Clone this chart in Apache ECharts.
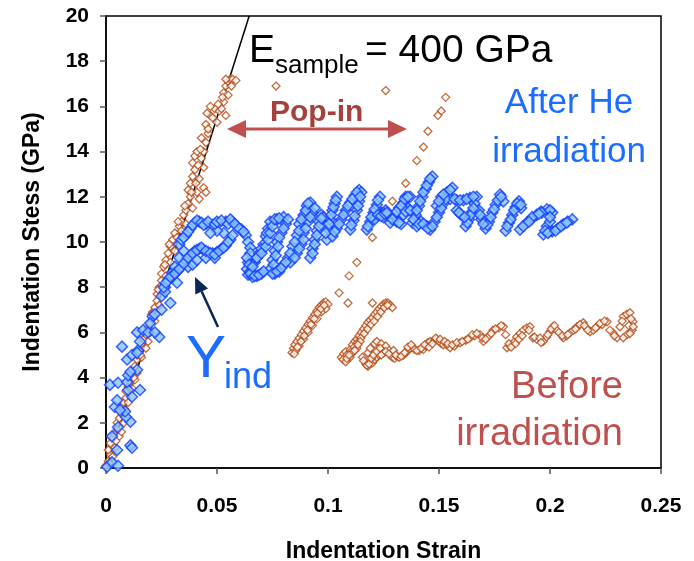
<!DOCTYPE html>
<html>
<head>
<meta charset="utf-8">
<script src="https://cdn.jsdelivr.net/npm/echarts@6/dist/echarts.min.js"></script>
<style>
  html, body { margin: 0; padding: 0; background: #fff; }
  #chart { width: 694px; height: 561px; }
</style>
</head>
<body>
<div id="chart"></div>
<script>
// Indentation stress-strain curves, [strain, stress (GPa)]

// Before irradiation: elastic loading up to the pop-in
const beforeLoading = [
  [0.000,0.1],[0.001,0.3],[0.002,0.6],[0.001,0.8],[0.003,1.0],[0.003,1.3],[0.004,1.5],[0.005,1.7],
  [0.005,2.0],[0.006,2.2],[0.007,2.4],[0.007,2.7],[0.008,2.9],[0.009,3.1],[0.009,3.4],[0.010,3.6],
  [0.011,3.8],[0.011,4.1],[0.012,4.3],[0.013,4.5],[0.014,4.8],[0.014,5.0],[0.015,5.2],[0.016,5.5],
  [0.017,5.7],[0.018,5.9],[0.019,6.2],[0.020,6.4],[0.021,6.6],[0.021,6.9],[0.022,7.1],[0.023,7.4],
  [0.023,7.7],[0.024,8.0],[0.025,8.3],[0.025,8.6],[0.026,8.9],[0.027,9.2],[0.028,9.5],[0.029,9.8],
  [0.030,10.1],[0.031,10.4],[0.033,10.7],[0.034,10.9],[0.035,11.2],[0.036,11.4],[0.037,11.7],[0.038,12.0],
  [0.004,0.9],[0.006,1.4],[0.008,2.0],[0.010,2.9],[0.012,3.5],[0.014,4.2],[0.016,4.9],[0.018,5.3],
  [0.020,6.0],[0.022,6.5],[0.019,5.6],[0.013,3.9],[0.007,1.6],[0.003,0.5],[0.002,1.1],[0.024,7.2],
  [0.026,7.8],[0.027,8.5],[0.029,9.1],[0.031,9.6],[0.032,10.2],[0.034,10.5],[0.036,10.8],[0.039,11.5],
  [0.041,12.2],[0.042,11.9],[0.037,12.3],[0.038,12.6],[0.039,12.9],[0.040,13.2],[0.039,13.5],[0.040,13.8],
  [0.041,14.0],[0.043,13.7],[0.044,13.3],[0.042,12.8],[0.044,12.4],[0.045,12.2],[0.044,14.0],[0.043,14.6],
  [0.045,14.4],[0.046,14.8],[0.045,15.2],[0.047,15.6],[0.046,15.0],[0.048,15.5],[0.049,15.9],[0.050,15.3],
  [0.051,15.8],[0.052,15.9],[0.053,16.2],[0.054,15.6],[0.047,16.0],[0.053,16.6],[0.054,16.9],[0.055,17.1],
  [0.056,17.2],[0.057,17.2],[0.054,17.2],[0.055,16.5],
  [0.0015,0.2],[0.0045,1.2],[0.0085,2.6],[0.0125,4.0],[0.0155,5.0],[0.0205,6.8],[0.0235,7.9],[0.0265,9.0],
  [0.0285,9.9],[0.0325,10.9],[0.0355,11.6],[0.0385,12.2],[0.0405,12.6],[0.0415,13.4],[0.0425,14.1],[0.0455,15.7],
  [0.0505,16.1],[0.0525,16.4],[0.0565,16.9],[0.0585,17.15]
];

// Before irradiation: sparse points across the pop-in excursion
const beforePopIn = [
  [0.0766,16.9],[0.126,16.7],[0.153,16.4],[0.151,15.8],[0.1495,15.6],[0.145,14.9],[0.143,14.2],
  [0.140,13.6],[0.135,12.6],[0.129,11.8],[0.120,10.2],[0.113,9.1],[0.1095,8.5],[0.105,7.75],
  [0.109,7.3],[0.120,7.3]
];

// Before irradiation: reloading ramps
const beforeRamps = [
  [0.0838,5.1],[0.0845,5.3],[0.085,5.45],[0.086,5.6],[0.087,5.75],[0.088,5.9],[0.089,6.05],[0.090,6.2],
  [0.091,6.35],[0.092,6.5],[0.093,6.65],[0.094,6.8],[0.095,6.95],[0.096,7.1],[0.097,7.2],[0.098,7.3],
  [0.099,7.35],[0.100,7.25],[0.0855,5.2],[0.087,5.4],[0.089,5.7],[0.091,6.0],[0.093,6.3],[0.095,6.6],
  [0.097,6.9],[0.099,7.05],
  [0.0848,5.05],[0.0862,5.35],[0.0878,5.6],[0.0893,5.85],[0.0908,6.1],[0.0923,6.35],[0.0938,6.6],[0.0953,6.85],
  [0.0968,7.05],[0.0983,7.2],
  [0.106,4.9],[0.107,5.05],[0.108,5.15],[0.110,5.25],[0.111,5.45],[0.112,5.6],[0.113,5.7],[0.114,5.85],
  [0.115,6.0],[0.116,6.15],[0.117,6.3],[0.118,6.45],[0.119,6.55],[0.120,6.65],[0.121,6.8],[0.122,6.9],
  [0.123,7.05],[0.124,7.15],[0.125,7.25],[0.126,7.3],[0.127,7.3],[0.128,7.2],[0.129,7.1],
  [0.1068,4.8],[0.1085,5.0],[0.1103,5.15],[0.1118,5.35],[0.1133,5.55],[0.1148,5.75],[0.1163,5.95],[0.1178,6.15],
  [0.1193,6.35],[0.1208,6.5],[0.1223,6.7],[0.1238,6.9],[0.1253,7.1],[0.1268,7.2]
];

// Before irradiation: plastic flow band
const beforeFlow = [
  [0.108,4.7],[0.110,4.9],[0.111,5.1],[0.113,5.3],[0.1145,5.6],[0.1155,4.9],[0.117,4.6],[0.118,4.5],
  [0.119,4.7],[0.120,4.65],[0.121,4.8],[0.122,4.9],[0.123,5.0],[0.125,5.1],[0.127,5.25],[0.128,5.0],
  [0.129,4.9],[0.130,4.85],[0.131,4.95],[0.132,4.9],[0.134,5.0],[0.135,5.1],[0.136,5.2],[0.137,5.3],
  [0.138,5.35],[0.139,5.25],[0.141,5.2],[0.143,5.25],[0.144,5.4],[0.145,5.55],[0.146,5.6],[0.148,5.65],
  [0.149,5.7],[0.150,5.6],[0.151,5.5],[0.152,5.45],[0.1535,5.45],[0.118,5.1],[0.119,5.3],[0.121,5.5],
  [0.122,5.6],[0.124,5.5],[0.126,5.4],
  [0.155,5.32],[0.157,5.4],[0.1595,5.54],[0.162,5.65],[0.164,5.76],[0.166,5.85],[0.1685,5.9],[0.170,5.6],
  [0.172,5.8],[0.1743,6.1],[0.177,6.2],[0.179,6.25],[0.180,5.9],[0.1806,5.32],[0.182,5.4],[0.1833,5.45],
  [0.184,5.6],[0.185,5.8],[0.1865,5.95],[0.188,6.1],[0.1895,6.2],[0.191,6.25],[0.1923,5.76],[0.194,5.7],
  [0.197,5.6],[0.1985,5.8],[0.200,6.03],[0.2014,6.25],[0.203,6.1],[0.206,5.76],[0.2075,5.85],[0.209,5.98],
  [0.2105,6.1],[0.2122,6.25],[0.215,6.43],[0.2165,6.2],[0.218,6.03],[0.2195,6.1],[0.2212,6.25],[0.2235,6.35],
  [0.2257,6.47],[0.2284,5.98],[0.2302,5.76],[0.2315,6.25],[0.233,6.7],[0.2345,6.8],[0.236,6.87],[0.2374,6.47],
  [0.237,6.1],[0.2347,5.9],[0.233,5.76],[0.2355,6.3],
  [0.1085,4.85],[0.1095,5.0],[0.112,5.2],[0.1135,5.45],[0.116,4.75],[0.1175,4.55],[0.1185,4.6],[0.1195,4.85],
  [0.1205,5.0],[0.122,5.15],[0.1235,5.3],[0.124,5.0],[0.126,5.15],[0.1275,5.05],[0.1295,5.2],[0.1305,5.0],
  [0.133,4.95],[0.1345,5.1],[0.136,5.35],[0.1375,5.45],[0.140,5.2],[0.142,5.3],[0.1435,5.45],[0.1455,5.35],
  [0.147,5.5],[0.1485,5.75],[0.1505,5.7],[0.1525,5.6],[0.154,5.5],[0.156,5.45],[0.158,5.55],[0.1605,5.6],
  [0.163,5.7],[0.165,5.9],[0.167,5.95],[0.1695,5.75],[0.171,5.7],[0.1735,5.95],[0.1755,6.15],[0.178,6.3],
  [0.1815,5.5],[0.1825,5.35],[0.1845,5.5],[0.186,5.7],[0.1875,5.85],[0.1905,6.1],[0.193,5.8],[0.1955,5.75],
  [0.196,5.55],[0.199,5.9],[0.2005,6.15],[0.202,6.3],[0.204,6.0],[0.2055,5.85],[0.208,5.9],[0.2115,6.15],
  [0.2135,6.35],[0.2155,6.3],[0.217,6.1],[0.2205,6.2],[0.2225,6.4],[0.2245,6.5],[0.227,6.1],[0.229,5.85],
  [0.2325,6.5],[0.2365,6.6],[0.2375,6.25],[0.236,5.95]
];

// After He irradiation: loading
const afterLoading = [
  [0.0005,0.05],[0.0027,0.25],[0.0054,0.1],[0.011,1.0],[0.0117,0.9],[0.005,0.8],[0.0027,1.4],[0.0054,1.8],
  [0.011,2.05],[0.009,2.26],[0.0086,2.5],[0.004,2.7],[0.005,3.0],[0.0117,3.15],[0.010,3.45],[0.0153,3.45],
  [0.0018,3.68],[0.0054,3.77],[0.0095,3.8],[0.010,4.1],[0.014,4.35],[0.0095,4.8],[0.0117,5.0],[0.0072,5.37],
  [0.0144,5.2],[0.0153,5.6],[0.014,6.0],[0.0167,6.1],[0.019,6.0],[0.021,6.7],[0.0198,6.4],[0.024,5.8],
  [0.025,7.0],[0.025,7.6],[0.029,7.3],[0.0266,8.0],[0.030,8.5],[0.032,8.2],[0.0063,2.57],[0.011,4.26],
  [0.014,5.1],[0.022,6.0],[0.022,6.8],[0.0266,7.8],[0.0297,8.64]
];

// After He irradiation: serrated flow
const afterFlow = [
  [0.026,8.0],[0.028,8.3],[0.030,8.5],[0.032,8.7],[0.034,8.9],[0.036,9.2],[0.038,9.4],[0.040,9.6],
  [0.042,9.7],[0.044,9.65],[0.046,9.55],[0.048,9.5],[0.050,9.55],[0.052,9.7],[0.054,9.85],[0.056,10.1],
  [0.037,8.9],[0.039,9.0],[0.035,9.6],[0.033,9.3],[0.031,8.9],[0.041,9.2],[0.045,9.3],[0.049,9.3],
  [0.033,9.9],[0.036,10.3],[0.038,10.6],[0.040,10.85],[0.042,10.9],[0.045,10.8],[0.048,10.75],[0.051,10.85],
  [0.054,10.9],[0.057,10.9],[0.059,10.7],[0.061,10.55],[0.063,10.3],[0.064,10.0],[0.065,9.75],[0.053,10.4],
  [0.050,10.5],[0.047,10.4],
  [0.065,9.5],[0.064,9.1],[0.0635,8.8],[0.064,8.55],[0.066,8.45],[0.068,8.5],[0.070,8.6],
  [0.065,8.7],[0.067,9.1],[0.069,9.5],[0.071,9.9],[0.072,10.25],[0.073,10.6],[0.074,10.9],[0.077,11.0],
  [0.080,11.1],[0.068,9.3],[0.070,9.7],[0.0725,10.4],
  [0.081,10.8],[0.079,10.4],[0.077,10.0],[0.076,9.6],[0.075,9.2],[0.074,8.8],[0.076,8.6],[0.078,8.7],
  [0.080,9.0],[0.082,9.3],[0.084,9.8],[0.086,10.3],[0.087,10.8],[0.089,11.2],[0.0905,11.6],[0.092,11.75],
  [0.083,9.1],[0.086,9.5],[0.088,9.9],[0.089,10.4],[0.091,10.9],[0.093,11.3],
  [0.092,9.3],[0.093,9.7],[0.094,10.1],[0.095,10.5],[0.096,10.9],[0.097,11.2],[0.098,11.1],[0.0995,10.1],
  [0.100,10.6],[0.101,11.0],[0.102,11.4],[0.103,11.7],[0.104,12.0],
  [0.102,10.25],[0.104,10.6],[0.106,11.0],[0.108,11.4],[0.110,11.75],[0.112,12.05],[0.114,12.3],[0.110,10.55],
  [0.1115,10.95],[0.113,11.4],[0.114,11.8],[0.115,12.2],
  [0.1175,10.55],[0.119,10.9],[0.1205,11.3],[0.122,11.65],[0.1234,12.0],[0.124,11.3],[0.125,11.1],[0.126,11.4],
  [0.127,11.2],[0.128,10.85],[0.130,11.2],[0.132,11.5],[0.134,11.75],[0.135,12.0],[0.137,12.0],[0.121,11.0],
  [0.123,11.2],
  [0.131,10.9],[0.133,10.8],[0.134,11.2],[0.136,11.5],[0.138,10.85],[0.1395,11.2],[0.141,11.6],[0.1425,12.0],
  [0.144,12.35],[0.1455,12.65],[0.147,12.9],
  [0.140,10.7],[0.142,10.9],[0.1446,10.7],[0.146,10.55],[0.148,10.9],[0.150,11.3],[0.152,11.7],[0.1536,12.2],
  [0.154,12.05],[0.156,12.4],[0.149,11.6],[0.151,12.0],[0.155,11.9],[0.158,11.85],[0.161,11.85],[0.164,11.95],
  [0.167,12.0],
  [0.162,10.7],[0.1635,11.0],[0.165,11.35],[0.166,11.7],[0.158,11.4],[0.160,11.2],[0.171,10.6],[0.1725,10.9],
  [0.174,11.3],[0.1755,11.65],[0.1775,12.1],[0.179,11.8],[0.180,10.5],[0.1815,10.85],[0.183,11.2],[0.1845,11.55],
  [0.186,11.8],[0.187,11.5],[0.169,11.0],[0.168,11.4],
  [0.1865,10.55],[0.1896,10.86],[0.194,11.2],[0.1986,11.45],[0.201,11.3],[0.1986,10.7],[0.197,10.33],[0.201,10.47],
  [0.206,10.78],[0.210,11.0],[0.1915,11.0],[0.196,11.35],[0.200,10.9],[0.1995,10.45],[0.2035,10.6],[0.208,10.9]
];

// After He irradiation: second layer of the serrated flow band
const afterFlowDense = [
  [0.027,8.2],[0.029,8.45],[0.031,8.6],[0.033,8.8],[0.035,9.05],[0.037,9.3],[0.039,9.5],[0.041,9.65],
  [0.043,9.75],[0.045,9.6],[0.047,9.5],[0.049,9.45],[0.051,9.6],[0.053,9.75],[0.055,10.0],[0.057,10.3],
  [0.034,10.1],[0.035,10.2],[0.037,10.45],[0.039,10.75],[0.041,10.95],[0.043,10.85],[0.044,10.75],[0.046,10.9],
  [0.049,10.8],[0.050,10.9],[0.052,10.95],[0.055,10.8],[0.056,11.0],[0.058,10.8],[0.060,10.6],[0.062,10.45],
  [0.0635,9.3],[0.0645,9.0],[0.065,8.6],[0.067,8.5],[0.069,8.55],[0.071,8.7],
  [0.066,8.9],[0.068,9.3],[0.070,9.5],[0.072,9.8],[0.073,10.1],[0.074,10.4],[0.075,10.7],[0.076,11.0],
  [0.078,11.05],
  [0.082,11.0],[0.080,10.6],[0.078,10.2],[0.0775,9.8],[0.0765,9.4],[0.0755,9.0],[0.075,8.6],[0.077,8.7],
  [0.079,8.85],
  [0.081,9.1],[0.083,9.5],[0.085,10.0],[0.087,10.5],[0.088,11.0],[0.090,11.4],[0.091,11.7],[0.085,9.3],
  [0.087,9.7],[0.089,10.1],[0.090,10.6],[0.092,11.1],[0.094,11.5],
  [0.093,9.5],[0.094,9.9],[0.095,10.3],[0.096,10.7],[0.097,11.05],[0.099,10.4],[0.1005,10.8],[0.1015,11.2],
  [0.1025,11.55],[0.1035,11.85],
  [0.103,10.45],[0.105,10.8],[0.107,11.2],[0.109,11.6],[0.111,11.9],[0.113,12.2],[0.1105,10.75],[0.112,11.15],
  [0.1135,11.6],[0.1145,12.0],
  [0.118,10.7],[0.1195,11.1],[0.121,11.45],[0.1225,11.85],[0.1225,11.2],[0.124,11.15],[0.1255,11.25],[0.1265,11.3],
  [0.129,11.0],[0.131,11.35],[0.133,11.6],[0.1345,11.9],[0.136,12.0],
  [0.132,10.85],[0.135,11.35],[0.137,11.4],[0.1385,11.0],[0.140,11.4],[0.1415,11.8],[0.143,12.2],[0.1445,12.5],
  [0.146,12.8],
  [0.141,10.8],[0.143,10.8],[0.145,10.6],[0.147,10.7],[0.149,11.1],[0.151,11.5],[0.153,11.9],[0.155,12.3],
  [0.150,11.8],[0.152,12.1],
  [0.157,11.9],[0.1595,11.85],[0.1625,11.9],[0.1655,12.0],[0.1628,10.85],[0.1643,11.2],[0.1655,11.5],[0.159,11.3],
  [0.1615,11.1],
  [0.1718,10.75],[0.1733,11.1],[0.1748,11.45],[0.1765,11.85],[0.178,12.0],[0.1808,10.7],[0.1823,11.0],[0.1838,11.4],
  [0.1852,11.7],[0.1868,11.65],[0.170,10.8],[0.1685,11.2],
  [0.188,10.7],[0.192,11.1],[0.1963,11.3],[0.200,11.4],[0.200,11.1],[0.1978,10.5],[0.199,10.4],[0.2025,10.5],
  [0.205,10.7],[0.2075,10.85],[0.1905,10.9],[0.195,11.25]
];

// Elastic reference line, E_sample = 400 GPa
const modulusLine = [[0, 0], [0.0645, 20]];

const xTicks = { min: 0, max: 0.25, step: 0.05 };
const yTicks = { min: 0, max: 20, step: 2 };

const FONT = '"Liberation Sans", Arial, sans-serif';
const chart = echarts.init(document.getElementById('chart'), null, { renderer: 'canvas' });

const axisCommon = {
  axisLine: { lineStyle: { color: '#000', width: 1.5 } },
  axisTick: { inside: false, length: 6, lineStyle: { color: '#555', width: 1.5 } },
  splitLine: { show: false },
  axisLabel: { color: '#000', fontWeight: 'bold', fontSize: 21, fontFamily: FONT },
  nameTextStyle: { color: '#000', fontWeight: 'bold', fontSize: 23, fontFamily: FONT },
  nameLocation: 'middle'
};

chart.setOption({
  animation: false,
  backgroundColor: '#fff',
  grid: {
    left: 106, right: 33, top: 16, bottom: 93,
    outerBoundsMode: 'none', containLabel: false,
    show: true, borderColor: '#000', borderWidth: 1.5
  },
  xAxis: Object.assign({}, axisCommon, {
    type: 'value', min: xTicks.min, max: xTicks.max, interval: xTicks.step,
    name: 'Indentation Strain', nameGap: 72,
    axisLabel: Object.assign({}, axisCommon.axisLabel, { margin: 28 })
  }),
  yAxis: Object.assign({}, axisCommon, {
    type: 'value', min: yTicks.min, max: yTicks.max, interval: yTicks.step,
    name: 'Indentation Stess (GPa)', nameGap: 62,
    axisLabel: Object.assign({}, axisCommon.axisLabel, { margin: 17 })
  }),
  series: [
    {
      type: 'line', data: modulusLine, showSymbol: false, silent: true,
      lineStyle: { color: '#000', width: 1.5 }, z: 1
    },
    {
      name: 'Before irradiation', type: 'scatter', symbol: 'diamond', symbolSize: 8,
      data: beforeLoading.concat(beforePopIn, beforeRamps, beforeFlow),
      itemStyle: { color: '#fff', borderColor: '#b5470f', borderWidth: 1.3 }, z: 2
    },
    {
      name: 'After He irradiation', type: 'scatter', symbol: 'diamond', symbolSize: 11,
      data: afterLoading.concat(afterFlow, afterFlowDense),
      itemStyle: { color: '#8cc4ff', borderColor: '#1040ff', borderWidth: 1.5 }, z: 3
    }
  ],
  graphic: [
    // E_sample = 400 GPa
    { type: 'text', left: 249, top: 32, style: { text: 'E', font: '39px ' + FONT, fill: '#000' }, z: 10 },
    { type: 'text', left: 275, top: 53, style: { text: 'sample', font: '26px ' + FONT, fill: '#000' }, z: 10 },
    { type: 'text', left: 365, top: 32, style: { text: '= 400 GPa', font: '39px ' + FONT, fill: '#000' }, z: 10 },
    // Pop-in double arrow
    { type: 'line', shape: { x1: 244, y1: 129, x2: 390, y2: 129 }, style: { stroke: '#c0504d', lineWidth: 3 }, z: 10 },
    { type: 'polygon', shape: { points: [[227, 129], [246, 120], [246, 138]] }, style: { fill: '#c0504d' }, z: 10 },
    { type: 'polygon', shape: { points: [[407, 129], [388, 120], [388, 138]] }, style: { fill: '#c0504d' }, z: 10 },
    { type: 'text', left: 270, top: 98, style: { text: 'Pop-in', font: 'bold 30px ' + FONT, fill: '#a5403d' }, z: 10 },
    // Series annotations
    { type: 'text', x: 569, y: 103, style: { text: 'After He', font: '35px ' + FONT, fill: '#1a6dff', align: 'center', verticalAlign: 'middle' }, z: 10 },
    { type: 'text', x: 569, y: 152, style: { text: 'irradiation', font: '35px ' + FONT, fill: '#1a6dff', align: 'center', verticalAlign: 'middle' }, z: 10 },
    { type: 'text', right: 71, top: 369, style: { text: 'Before', font: '38px ' + FONT, fill: '#c0504d' }, z: 10 },
    { type: 'text', right: 71, top: 416, style: { text: 'irradiation', font: '38px ' + FONT, fill: '#c0504d' }, z: 10 },
    // Y_ind marker
    { type: 'text', left: 186, top: 330, style: { text: 'Y', font: '60px ' + FONT, fill: '#1a6dff' }, z: 10 },
    { type: 'text', left: 224, top: 360, style: { text: 'ind', font: '36px ' + FONT, fill: '#1a6dff' }, z: 10 },
    { type: 'line', shape: { x1: 218, y1: 327, x2: 201.7, y2: 291.5 }, style: { stroke: '#0b2557', lineWidth: 2.5 }, z: 10 },
    { type: 'polygon', shape: { points: [[195, 277], [208.1, 288.6], [195.3, 294.4]] }, style: { fill: '#0b2557' }, z: 10 }
  ]
});
</script>
</body>
</html>
